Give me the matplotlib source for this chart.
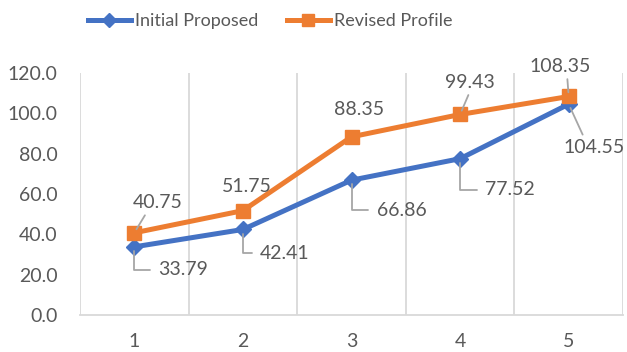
import matplotlib
matplotlib.use("Agg")
import matplotlib.pyplot as plt
from matplotlib.lines import Line2D

categories = [1, 2, 3, 4, 5]
initial_proposed = [33.79, 42.41, 66.86, 77.52, 104.55]
revised_profile = [40.75, 51.75, 88.35, 99.43, 108.35]
y_ticks = [0, 20, 40, 60, 80, 100, 120]

BLUE = "#4472C4"
ORANGE = "#ED7D31"
TXT = "#595959"
GRID = "#D9D9D9"
LEAD = "#A6A6A6"

plt.rcParams['font.family'] = ['Lato', 'DejaVu Sans']
FS = 14
LFS = 13

fig = plt.figure(figsize=(6.27, 3.52), dpi=100)
ax = fig.add_axes([80/627, 37/352, 543/627, 242/352])

x = list(range(len(categories)))
ax.plot(x, initial_proposed, color=BLUE, lw=3.6, marker='D', ms=8.5, zorder=3,
        solid_capstyle='round', label='Initial Proposed')
ax.plot(x, revised_profile, color=ORANGE, lw=3.6, marker='s', ms=10, zorder=3,
        solid_capstyle='round', label='Revised Profile')

ax.set_xlim(-0.5, len(categories) - 0.5)
ax.set_ylim(0, 120)
ax.set_yticks(y_ticks)
ax.set_yticklabels([f"{v:.1f}" for v in y_ticks])
ax.set_xticks(x)
ax.set_xticklabels([str(c) for c in categories])
for b in [i - 0.5 for i in range(len(categories) + 1)]:
    ax.axvline(b, color=GRID, lw=1.3, zorder=1)
for s in ['top', 'right', 'left']:
    ax.spines[s].set_visible(False)
ax.spines['bottom'].set_color(GRID)
ax.spines['bottom'].set_linewidth(1.3)
ax.tick_params(axis='both', length=0, colors=TXT, labelsize=FS)
ax.tick_params(axis='y', pad=16)
ax.tick_params(axis='x', pad=13)

# label placements (pixel offsets), leader style
rev_off = [((23, 30), 'diag', (0.3, 0.0)), ((4, 24), None, None), ((8, 27), None, None),
           ((10, 32), 'diag', (0.5, 0.0)), ((-9, 30), 'diag', (0.62, 0.0))]
ini_off = [((49, -23), 'elbow', (0.0, 0.5)), ((42, -24), 'elbow', (0.0, 0.5)),
           ((50, -30), 'elbow', (0.0, 0.5)), ((50, -31), 'elbow', (0.0, 0.5)),
           ((25, -43), 'diag', (0.35, 1.0))]

def label(xi, v, spec):
    (dx, dy), kind, rel = spec
    ap = None
    if kind == 'elbow':
        ap = dict(arrowstyle='-', color=LEAD, lw=1.3, relpos=rel, shrinkA=4, shrinkB=3,
                  connectionstyle="angle,angleA=0,angleB=90,rad=0")
    elif kind == 'diag':
        ap = dict(arrowstyle='-', color=LEAD, lw=1.3, relpos=rel, shrinkA=1, shrinkB=3)
    ax.annotate(f"{v:.2f}", xy=(xi, v), xytext=(dx, dy), textcoords='offset pixels',
                ha='center', va='center', fontsize=FS, color=TXT, arrowprops=ap, zorder=4)

for xi, v, spec in zip(x, revised_profile, rev_off):
    label(xi, v, spec)
for xi, v, spec in zip(x, initial_proposed, ini_off):
    label(xi, v, spec)

handles = [Line2D([0], [0], color=BLUE, lw=3.6, marker='D', ms=7),
           Line2D([0], [0], color=ORANGE, lw=3.6, marker='s', ms=8)]
leg = fig.legend(handles, ['Initial Proposed', 'Revised Profile'], loc='center',
                 bbox_to_anchor=(270/627, 1 - 21/352), ncol=2, frameon=False,
                 fontsize=LFS, handlelength=2.4, handletextpad=0.2, columnspacing=1.6)
for t in leg.get_texts():
    t.set_color(TXT)

fig.savefig("out.png", dpi=100)
